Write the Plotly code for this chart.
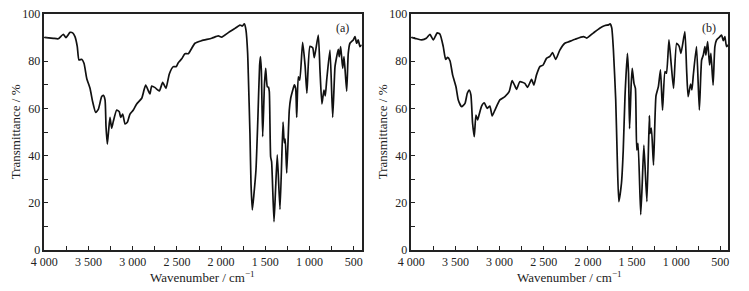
import plotly.graph_objects as go

# ---- data ----
wn_a = [4000, 3950, 3898, 3842, 3785, 3755, 3709, 3679, 3653, 3627, 3608, 3577, 3551, 3520, 3483, 3453,
        3419, 3389, 3351, 3332, 3313, 3302, 3287, 3272, 3257, 3238, 3220, 3181, 3152, 3136, 3113, 3087,
        3061, 3031, 2993, 2955, 2898, 2872, 2853, 2824, 2805, 2785, 2747, 2699, 2661, 2624, 2586, 2541,
        2507, 2484, 2446, 2409, 2371, 2296, 2220, 2107, 2032, 1994, 1919, 1843, 1787, 1761, 1738, 1719,
        1700, 1693, 1674, 1662, 1647, 1628, 1606, 1585, 1565, 1555, 1545, 1530, 1510, 1496, 1478, 1465,
        1455, 1440, 1429, 1402, 1385, 1365, 1334, 1300, 1286, 1275, 1258, 1229, 1213, 1184, 1172, 1157,
        1145, 1127, 1110, 1078, 1050, 1030, 995, 964, 946, 901, 882, 860, 837, 822, 806, 769,
        738, 712, 693, 675, 664, 648, 625, 610, 580, 562, 543, 505, 486, 467, 449, 430, 410]
t_a = [90.1, 89.9, 89.7, 89.5, 91.4, 90.0, 92.2, 92.0, 90.4, 86.2, 80.5, 80.8, 79.1, 72.7, 68.5, 62.8,
       58.3, 59.6, 65.0, 65.5, 63.6, 52.3, 44.9, 50.8, 56.2, 51.6, 54.4, 59.3, 58.6, 56.2, 57.6, 53.4,
       54.1, 57.6, 59.3, 61.9, 64.3, 67.8, 69.9, 67.5, 66.1, 69.5, 68.8, 67.4, 71.0, 68.5, 74.6, 77.7,
       77.7, 79.4, 81.0, 83.2, 83.2, 87.6, 88.7, 89.7, 90.7, 90.2, 92.1, 93.9, 95.3, 94.9, 95.8, 93.2,
       83.3, 75.0, 49.5, 28.0, 17.0, 24.0, 33.9, 55.0, 78.0, 82.0, 76.0, 48.0, 70.0, 77.0, 69.2, 69.0,
       67.1, 39.5, 37.4, 12.0, 25.0, 40.3, 17.2, 54.2, 45.5, 47.0, 32.6, 59.3, 64.3, 68.5, 70.0, 68.5,
       56.2, 73.4, 72.0, 88.0, 78.0, 66.5, 86.3, 85.7, 81.5, 91.1, 76.3, 61.9, 67.8, 65.3, 72.0, 84.7,
       56.2, 77.7, 81.9, 85.0, 81.9, 86.2, 77.0, 81.9, 67.3, 83.3, 87.6, 89.0, 90.4, 87.6, 89.0, 86.2, 86.9]

wn_b = [4000, 3940, 3882, 3830, 3789, 3751, 3706, 3675, 3638, 3611, 3588, 3562, 3532, 3494, 3468, 3430,
        3392, 3366, 3344, 3325, 3306, 3287, 3268, 3249, 3230, 3204, 3174, 3140, 3110, 3084, 3053, 2997,
        2940, 2892, 2858, 2827, 2808, 2771, 2714, 2684, 2638, 2612, 2582, 2544, 2507, 2469, 2431, 2401,
        2364, 2318, 2262, 2213, 2145, 2050, 2013, 1937, 1862, 1806, 1767, 1749, 1730, 1711, 1685, 1667,
        1650, 1620, 1600, 1580, 1553, 1540, 1528, 1510, 1498, 1478, 1462, 1447, 1432, 1402, 1385, 1366,
        1332, 1304, 1297, 1281, 1257, 1229, 1202, 1178, 1155, 1127, 1110, 1082, 1055, 1030, 995, 965,
        946, 902, 882, 865, 837, 822, 806, 770, 738, 712, 693, 675, 664, 644, 622, 607,
        582, 562, 543, 505, 486, 467, 449, 430, 410]
t_b = [90.1, 89.5, 89.0, 89.7, 91.4, 89.0, 92.0, 91.4, 86.2, 80.8, 81.6, 80.2, 74.2, 69.2, 63.6, 60.7,
       62.1, 66.4, 67.8, 65.7, 53.7, 48.0, 57.2, 55.1, 57.6, 61.0, 62.4, 60.0, 61.0, 56.8, 59.3, 63.6,
       65.0, 67.1, 71.8, 69.5, 68.1, 71.3, 70.6, 68.9, 72.3, 69.9, 74.2, 77.7, 78.4, 81.2, 82.0, 83.6,
       80.8, 84.7, 87.6, 88.3, 89.3, 90.4, 89.8, 92.0, 94.1, 95.1, 95.4, 95.8, 94.1, 84.7, 63.6, 38.1,
       20.5, 28.3, 42.0, 65.0, 83.3, 75.0, 51.4, 70.0, 77.0, 70.6, 68.5, 42.4, 45.2, 15.0, 28.0, 44.4,
       20.5, 57.0, 49.4, 51.6, 36.0, 65.3, 69.2, 76.3, 59.3, 75.6, 74.9, 89.0, 78.0, 68.5, 87.6, 86.2,
       83.3, 92.5, 76.3, 65.0, 70.3, 67.8, 74.2, 86.2, 59.3, 80.5, 82.6, 86.2, 82.6, 88.3, 78.4, 83.3,
       69.9, 86.2, 89.0, 90.4, 91.1, 88.7, 90.4, 86.2, 86.9]

x_tickvals = [4000, 3500, 3000, 2500, 2000, 1500, 1000, 500]
x_ticktext = ["4 000", "3 500", "3 000", "2 500", "2 000", "1 500", "1 000", "500"]
y_tickvals = [0, 20, 40, 60, 80, 100]
panel_labels = ["(a)", "(b)"]
x_title = "Wavenumber / cm<sup>−1</sup>"
y_title = "Transmittance / %"

FONT = "Liberation Serif"
INK = "#222222"
W, H = 749, 291
xdom_px = [(44.3, 361.7), (411.3, 728.3)]
ytop_px, ybot_px = 14, 250

fig = go.Figure()
for i, (wn, t) in enumerate([(wn_a, t_a), (wn_b, t_b)]):
    sfx = "" if i == 0 else str(i + 1)
    fig.add_trace(go.Scatter(x=wn, y=t, mode="lines",
                             line=dict(color="#111111", width=1.7, shape="spline", smoothing=0.5),
                             xaxis="x" + sfx, yaxis="y" + sfx, showlegend=False, hoverinfo="skip"))
    x0, x1 = xdom_px[i]
    common = dict(showline=True, linecolor=INK, linewidth=1.5, mirror=True, automargin=False,
                  showgrid=False, zeroline=False, ticks="inside", ticklen=4, tickwidth=1.2,
                  tickcolor=INK, tickfont=dict(family=FONT, size=12, color=INK))
    fig.update_layout(**{
        "xaxis" + sfx: dict(domain=[x0 / W, x1 / W], range=[4000, 410], anchor="y" + sfx,
                            tickvals=x_tickvals, ticktext=x_ticktext,
                            minor=dict(dtick=250, ticks="inside", ticklen=4, tickwidth=1.2, tickcolor=INK),
                            **common),
        "yaxis" + sfx: dict(domain=[(H - ybot_px) / H, (H - ytop_px) / H], range=[0, 100],
                            anchor="x" + sfx, tickvals=y_tickvals,
                            minor=dict(dtick=10, ticks="inside", ticklen=4, tickwidth=1.2, tickcolor=INK),
                            **common),
    })
    fig.add_annotation(x=(x0 + x1) / 2 / W, y=(H - 277) / H, xref="paper", yref="paper",
                       text=x_title, showarrow=False, xanchor="center", yanchor="middle",
                       font=dict(family=FONT, size=13, color=INK))
    fig.add_annotation(x=(x0 - 29) / W, y=(H - 132) / H, xref="paper", yref="paper",
                       text=y_title, showarrow=False, textangle=-90, xanchor="center", yanchor="middle",
                       font=dict(family=FONT, size=13, color=INK))
    fig.add_annotation(x=(x1 - 19) / W, y=(H - 28) / H, xref="paper", yref="paper",
                       text=panel_labels[i], showarrow=False, xanchor="center", yanchor="middle",
                       font=dict(family=FONT, size=12, color=INK))

fig.update_layout(template="none", width=W, height=H,
                  margin=dict(l=0, r=0, t=0, b=0, pad=0, autoexpand=False),
                  paper_bgcolor="white", plot_bgcolor="white",
                  font=dict(family=FONT, size=12, color=INK))
fig.write_html("out.html", config={"displayModeBar": False},
               post_script="document.body.style.margin='0';document.body.style.padding='0';"
                           "document.body.style.overflow='hidden';")
